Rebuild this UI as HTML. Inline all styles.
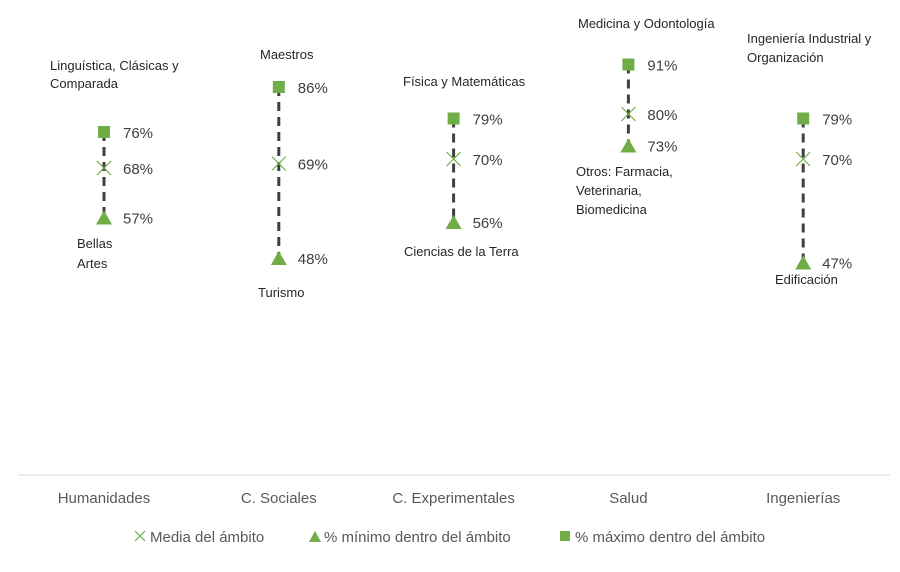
<!DOCTYPE html>
<html><head><meta charset="utf-8"><style>
body{margin:0;background:#fff;font-family:"Liberation Sans",sans-serif}
svg text{font-family:"Liberation Sans",sans-serif}
</style></head><body>
<svg id="chart" width="900" height="567" viewBox="0 0 900 567">
<line x1="18" y1="475" x2="890" y2="475" stroke="#d9d9d9" stroke-width="1"/>
<g id="marks"></g>
<g id="notes" font-size="13" fill="#262626">
<text x="50" y="70">Linguística, Clásicas y</text><text x="50" y="88">Comparada</text>
<text x="77" y="248">Bellas</text><text x="77" y="268">Artes</text>
<text x="260" y="59">Maestros</text>
<text x="258" y="297">Turismo</text>
<text x="403" y="86">Física y Matemáticas</text>
<text x="404" y="256">Ciencias de la Terra</text>
<text x="578" y="28">Medicina y Odontología</text>
<text x="576" y="176">Otros: Farmacia,</text><text x="576" y="195">Veterinaria,</text><text x="576" y="214">Biomedicina</text>
<text x="747" y="43">Ingeniería Industrial y</text><text x="747" y="62">Organización</text>
<text x="775" y="284">Edificación</text>
</g>
<g font-size="15" fill="#595959">
<g><path d="M135 531l10 10M145 531l-10 10" stroke="#70ad47" stroke-width="1.2"/><text x="150" y="542">Media del ámbito</text></g>
<g><path d="M309 542l6 -11l6 11z" fill="#70ad47"/><text x="324" y="542">% mínimo dentro del ámbito</text></g>
<g><rect x="560" y="531" width="10" height="10" fill="#70ad47"/><text x="575" y="542">% máximo dentro del ámbito</text></g>
</g>
</svg>
<script>
const categories=["Humanidades","C. Sociales","C. Experimentales","Salud","Ingenierías"];
const maxVals=[76,86,79,91,79];
const meanVals=[68,69,70,80,70];
const minVals=[57,48,56,73,47];
const NS="http://www.w3.org/2000/svg";
const g=document.getElementById("marks");
function xScale(i){return 104+i*174.8;}
function yScale(v){return 474-v*4.5;}
function mk(tag,attrs){const e=document.createElementNS(NS,tag);for(const k in attrs)e.setAttribute(k,attrs[k]);g.appendChild(e);return e;}
categories.forEach((c,i)=>{
  const x=xScale(i);
  const ln=mk("line",{x1:x,x2:x,y1:yScale(maxVals[i]),y2:yScale(minVals[i]),stroke:"#404040","stroke-width":3,"stroke-dasharray":"9,6"});
  
  
  const ym=yScale(maxVals[i]);
  const sq=mk("rect",{x:x-6,y:ym-6,width:12,height:12,fill:"#70ad47"});
  
  
  const ya=yScale(meanVals[i]);
  const cr=mk("path",{d:`M${x-7} ${ya-7}L${x+7} ${ya+7}M${x+7} ${ya-7}L${x-7} ${ya+7}`,stroke:"#70ad47","stroke-width":1.2,fill:"none"});
  
  
  const yn=yScale(minVals[i]);
  const tr=mk("path",{d:`M${x-8} ${yn+7}L${x} ${yn-7}L${x+8} ${yn+7}Z`,fill:"#70ad47"});
  
  
  [[maxVals[i],ym],[meanVals[i],ya],[minVals[i],yn]].forEach(([v,y])=>{
    const t=mk("text",{x:x+19,y:y+6,"font-size":15,fill:"#404040"});
    t.textContent=v+"%";
    
    
  });
  const cl=mk("text",{x:x,y:503,"font-size":15,fill:"#595959","text-anchor":"middle"});
  cl.textContent=c;
  
  
});
</script>
</body></html>
